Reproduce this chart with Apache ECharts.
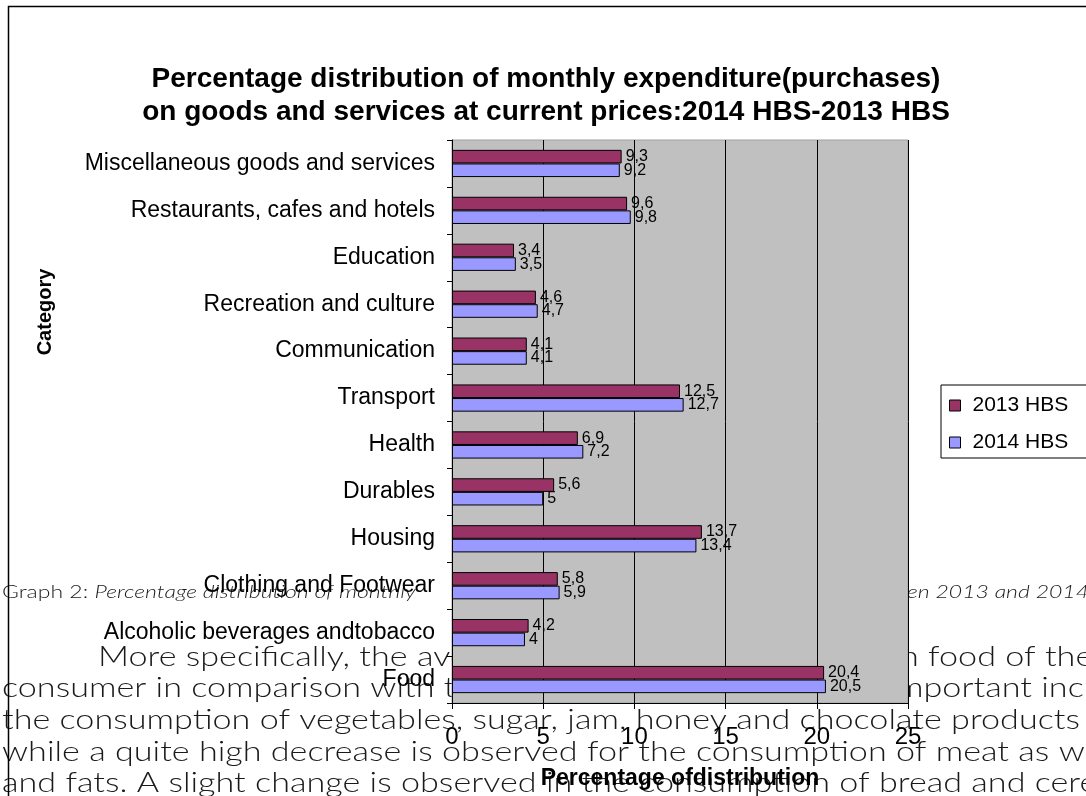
<!DOCTYPE html>
<html><head><meta charset="utf-8">
<script src="https://cdn.jsdelivr.net/npm/echarts@6/dist/echarts.min.js"></script>
<style>html,body{margin:0;padding:0;background:#fff}#c{width:1086px;height:796px}</style>
</head><body><div id="c"></div>
<script>
// ---- data (top to bottom as shown) ----
const categories = ['Miscellaneous goods and services', 'Restaurants, cafes and hotels', 'Education',
  'Recreation and culture', 'Communication', 'Transport', 'Health', 'Durables', 'Housing',
  'Clothing and Footwear', 'Alcoholic beverages andtobacco', 'Food'];
const seriesNames = ['2013 HBS', '2014 HBS'];
const values2013 = [9.3, 9.6, 3.4, 4.6, 4.1, 12.5, 6.9, 5.6, 13.7, 5.8, 4.2, 20.4];
const values2014 = [9.2, 9.8, 3.5, 4.7, 4.1, 12.7, 7.2, 5.0, 13.4, 5.9, 4.0, 20.5];
const xTicks = [0, 5, 10, 15, 20, 25];
const titleLines = ['Percentage distribution of monthly expenditure(purchases)',
  'on goods and services at current prices:2014 HBS-2013 HBS'];
const xAxisTitle = 'Percentage ofdistribution';
const yAxisTitle = 'Category';
// surrounding document text visible in the picture
const captionLeftA = 'Graph 2: ';
const captionLeftB = 'Percentage distribution of monthly';
const captionRight = 'en 2013 and 2014';
const paraLine1Left = 'More specifically, the average';
const paraLine1Right = 'n food of the';
const paraLine2Left = 'consumer in comparison with the';
const paraLine2Right = 'mportant increase';
const paraLine3 = 'the consumption of vegetables, sugar, jam, honey and chocolate products';
const paraLine4 = 'while a quite high decrease is observed for the consumption of meat as well';
const paraLine5 = 'and fats. A slight change is observed in the consumption of bread and cereals';

const FONT = '"Liberation Sans", Arial, sans-serif';
const PFONT = '300 28px Lato, "Open Sans", sans-serif';
const CFONT = '300 17px Lato, "Open Sans", sans-serif';
const CFONTI = 'italic 300 17px Lato, "Open Sans", sans-serif';

const mctx = document.createElement('canvas').getContext('2d');
function measure(t, f) { mctx.font = f; return mctx.measureText(t).width; }
const pScale = 1078 / measure(paraLine3, PFONT);
const cScale = 195 / (measure(captionLeftA, CFONT) + measure('Percentage', CFONTI));

function ptext(t, x, y, sc) {
  return { type: 'text', x: x, y: y, z: -5, scaleX: sc,
    style: { text: t, font: PFONT, fill: '#1a1a1a', align: 'left', verticalAlign: 'middle' } };
}
const fmt = v => String(v).replace('.', ',');

const chart = echarts.init(document.getElementById('c'), null, { renderer: 'canvas' });
chart.setOption({
  animation: false,
  backgroundColor: '#ffffff',
  title: {
    text: titleLines.join('\n'), left: 541, textAlign: 'center', top: 58,
    textStyle: { fontFamily: FONT, fontWeight: 'bold', fontSize: 28, lineHeight: 33, color: '#000' }
  },
  legend: {
    orient: 'vertical', left: 941, top: 385,
    data: seriesNames,
    icon: 'rect', itemWidth: 11, itemHeight: 11, itemGap: 16,
    padding: [10, 30, 5, 8],
    borderColor: '#000', borderWidth: 1,
    itemStyle: { borderColor: '#000', borderWidth: 1 },
    textStyle: { fontFamily: FONT, fontSize: 21, color: '#000', lineHeight: 21, padding: [0, 0, 0, 7] }
  },
  grid: { left: 452, right: 178, top: 140, bottom: 93, show: true, backgroundColor: '#C0C0C0',
    borderColor: '#a0a0a0', borderWidth: 1 },
  xAxis: {
    type: 'value', min: xTicks[0], max: xTicks[xTicks.length - 1], interval: 5,
    axisLine: { show: true, lineStyle: { color: '#000', width: 1 } },
    axisTick: { show: true, length: 6, lineStyle: { color: '#000' } },
    splitLine: { show: true, lineStyle: { color: '#000', width: 1 } },
    axisLabel: { fontFamily: FONT, fontSize: 24, color: '#000', margin: 22 },
    name: xAxisTitle, nameLocation: 'middle', nameGap: 64,
    nameTextStyle: { fontFamily: FONT, fontWeight: 'bold', fontSize: 23, color: '#000' }
  },
  yAxis: {
    type: 'category', data: categories, inverse: true,
    axisLine: { show: true, lineStyle: { color: '#000', width: 1 } },
    axisTick: { show: true, length: 5, lineStyle: { color: '#000' } },
    axisLabel: { fontFamily: FONT, fontSize: 23, color: '#000', margin: 17 }
  },
  series: [
    { name: seriesNames[0], type: 'bar', data: values2013, barGap: '0%', barCategoryGap: '42%',
      itemStyle: { color: '#993366', borderColor: '#000', borderWidth: 1 },
      label: { show: true, position: 'right', distance: 4, fontFamily: FONT, fontSize: 16, color: '#000',
        formatter: p => fmt(p.value) } },
    { name: seriesNames[1], type: 'bar', data: values2014, barGap: '0%', barCategoryGap: '42%',
      itemStyle: { color: '#9999FF', borderColor: '#000', borderWidth: 1 },
      label: { show: true, position: 'right', distance: 4, fontFamily: FONT, fontSize: 16, color: '#000',
        formatter: p => fmt(p.value) } }
  ],
  graphic: [
    { type: 'polyline', z: 20, shape: { points: [[8.5, 796], [8.5, 6.5], [1086, 6.5]] },
      style: { stroke: '#000', lineWidth: 1.5, fill: null } },
    { type: 'text', x: 45, y: 312, rotation: Math.PI / 2, z: 20,
      style: { text: yAxisTitle, font: 'bold 20px ' + FONT, fill: '#000', align: 'center', verticalAlign: 'middle' } },
    { type: 'text', x: 2, y: 593, z: -5, scaleX: cScale,
      style: { text: '{a|' + captionLeftA + '}{b|' + captionLeftB + '}', fill: '#1a1a1a', verticalAlign: 'middle',
        rich: { a: { font: CFONT, fill: '#1a1a1a' }, b: { font: CFONTI, fill: '#1a1a1a' } } } },
    { type: 'text', x: 907, y: 593, z: -5, scaleX: cScale,
      style: { text: captionRight, font: CFONTI, fill: '#1a1a1a', verticalAlign: 'middle' } },
    ptext(paraLine1Left, 98, 657, pScale),
    ptext(paraLine1Right, 900, 657, pScale),
    ptext(paraLine2Left, 2, 688, pScale),
    ptext(paraLine2Right, 896, 688, pScale),
    ptext(paraLine3, 2, 720, pScale),
    ptext(paraLine4, 2, 752, pScale),
    ptext(paraLine5, 2, 783, pScale)
  ]
});
</script></body></html>
